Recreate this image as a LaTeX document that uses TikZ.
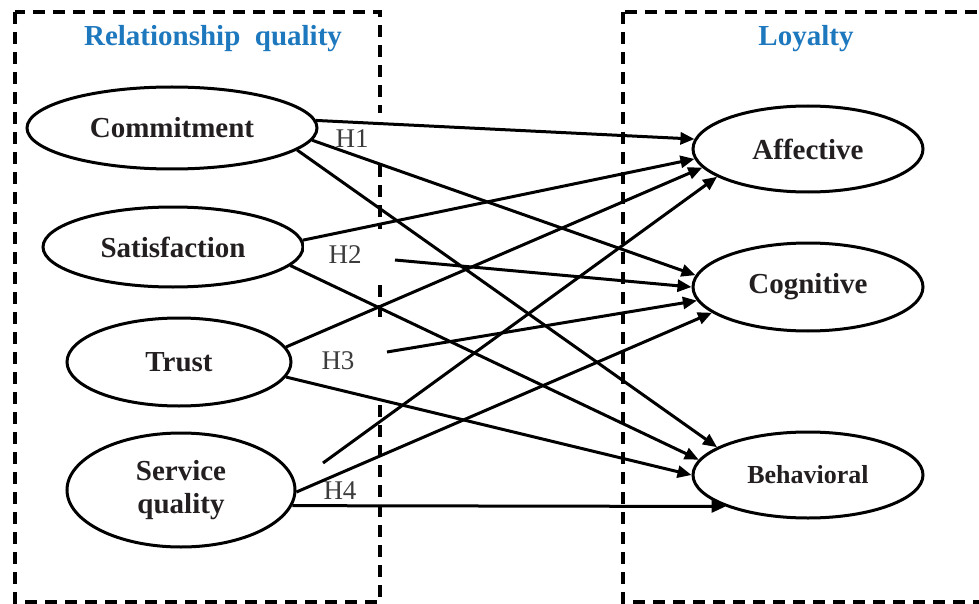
\documentclass[tikz,border=0pt]{standalone}
\usepackage{fontspec}
\setmainfont{Liberation Serif}
\usetikzlibrary{shapes.geometric,arrows.meta}
\definecolor{rqblue}{RGB}{30,120,190}
\definecolor{hgray}{RGB}{60,60,60}
\definecolor{txtdark}{RGB}{35,31,32}

\begin{document}
\begin{tikzpicture}[x=1pt,y=-1pt,
	construct/.style={ellipse,draw,line width=3pt,inner sep=0pt,text=txtdark,align=center,
		font=\bfseries\fontsize{29}{33}\selectfont},
	hyp/.style={fill=white,inner sep=0pt,text=hgray,font=\fontsize{27}{29}\selectfont},
	groupbox/.style={line width=3.2pt,dash pattern=on 12pt off 8pt},
	grouptitle/.style={text=rqblue,font=\bfseries\fontsize{29}{31}\selectfont},
	link/.style={-{Triangle[length=14pt,width=12pt]},line width=3pt}]

		\useasboundingbox (0,0) rectangle (979,604);
		\clip (0,0) rectangle (979,604);

		\draw[groupbox] (15,12) rectangle (380,602);
		\draw[groupbox] (623,12) rectangle (1000,602);
		\node[grouptitle] (rqtitle) at (213,39) {Relationship\ \ quality};
		\node[grouptitle] (loytitle) at (806,39) {Loyalty};

		\node[construct, minimum width=290pt, minimum height=82pt] (comm) at (172,128) {Commitment};
		\node[construct, minimum width=260pt, minimum height=80pt] (sat) at (173,247) {Satisfaction};
		\node[construct, minimum width=224pt, minimum height=88pt] (trust) at (179,362) {Trust};
		\node[construct, minimum width=228pt, minimum height=114pt] (serv) at (181,490) {Service\\quality};

		\node[construct, minimum width=230pt, minimum height=86pt] (aff) at (808,149) {Affective};
		\node[construct, minimum width=230pt, minimum height=88pt] (cog) at (808,287) {Cognitive};
		\node[construct, minimum width=230pt, minimum height=86pt, font=\bfseries\fontsize{26}{28}\selectfont] (beh) at (808,475) {Behavioral};

		\node[hyp, minimum width=66pt, minimum height=52pt] (h1) at (352,139) {H1};
		\node[hyp, minimum width=82pt, minimum height=52pt] (h2) at (345,255) {H2};
		\node[hyp, minimum width=90pt, minimum height=72pt] (h3) at (338,361) {H3};
		\node[hyp, minimum width=66pt, minimum height=34pt] (h4) at (340,491) {H4};

		\coordinate (s2) at (395,260);
		\coordinate (s3) at (387,352);
		\coordinate (s4) at (323,463);

		\draw[link] (comm.3) -- (aff.175);
		\draw[link] (comm.-5) -- (cog.174);
		\draw[link] (comm.-10) -- (beh.163);

		\draw[link] (sat.3) -- (aff.185);
		\draw[link] (s2) -- (cog.west);
		\draw[link] (sat.-9) -- (beh.172);

		\draw[link] (trust.8) -- (aff.190);
		\draw[link] (s3) -- (cog.187);
		\draw[link] (trust.-8) -- (beh.west);

		\draw[link] (s4) -- (aff.197);
		\draw[link] (serv.-1) -- (cog.195);
		\draw[link] (serv.-8) -- (beh.south west);

	\end{tikzpicture}
\end{document}
